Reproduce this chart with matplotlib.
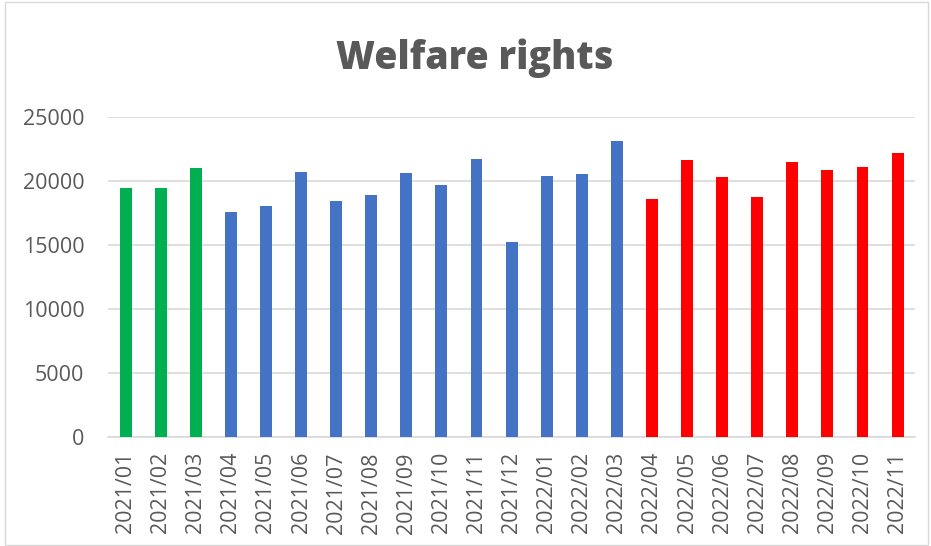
import matplotlib.pyplot as plt
import numpy as np

months = ["2021/01", "2021/02", "2021/03", "2021/04", "2021/05", "2021/06",
          "2021/07", "2021/08", "2021/09", "2021/10", "2021/11", "2021/12",
          "2022/01", "2022/02", "2022/03", "2022/04", "2022/05", "2022/06",
          "2022/07", "2022/08", "2022/09", "2022/10", "2022/11"]
values = [19430, 19430, 20990, 17580, 18020, 20700, 18440, 18860, 20630,
          19660, 21670, 15190, 20340, 20500, 23100, 18570, 21620, 20290,
          18730, 21460, 20840, 21070, 22160]
# colour group per bar: 3 green, 12 blue, 8 red
groups = ["g"] * 3 + ["b"] * 12 + ["r"] * 8
palette = {"g": "#00b050", "b": "#4472c4", "r": "#ff0000"}

plt.rcParams['font.family'] = ['Open Sans', 'DejaVu Sans']
grey = "#595959"

fig = plt.figure(figsize=(9.31, 5.46), dpi=100)
ax = fig.add_axes([0.116, 0.2, 0.867, 0.586])

x = np.arange(len(months))
ax.bar(x, values, width=0.34, color=[palette[g] for g in groups], zorder=3)

ax.set_xlim(-0.5, len(months) - 0.5)
ax.set_ylim(0, 25000)
ax.set_yticks(np.arange(0, 25001, 5000))
ax.set_xticks(x)
ax.set_xticklabels(months, rotation=90)
ax.tick_params(axis="both", length=0, colors=grey, labelsize=15.5)
ax.tick_params(axis="y", pad=17)
ax.tick_params(axis="x", pad=11)
ax.grid(axis="y", color="#d9d9d9", linewidth=1.2, zorder=0)
for s in ["top", "right", "left"]:
    ax.spines[s].set_visible(False)
ax.spines["bottom"].set_color("#d9d9d9")
ax.spines["bottom"].set_linewidth(1.2)

fig.text(0.51, 0.893, "Welfare rights", ha="center", va="center",
         fontsize=27, fontweight="heavy", color=grey)

# chart border
fig.patches.append(plt.Rectangle((0.005, 0.001), 0.992, 0.996, transform=fig.transFigure,
                                 fill=False, edgecolor="#d9d9d9", linewidth=1))

fig.savefig("out.png", dpi=100)
